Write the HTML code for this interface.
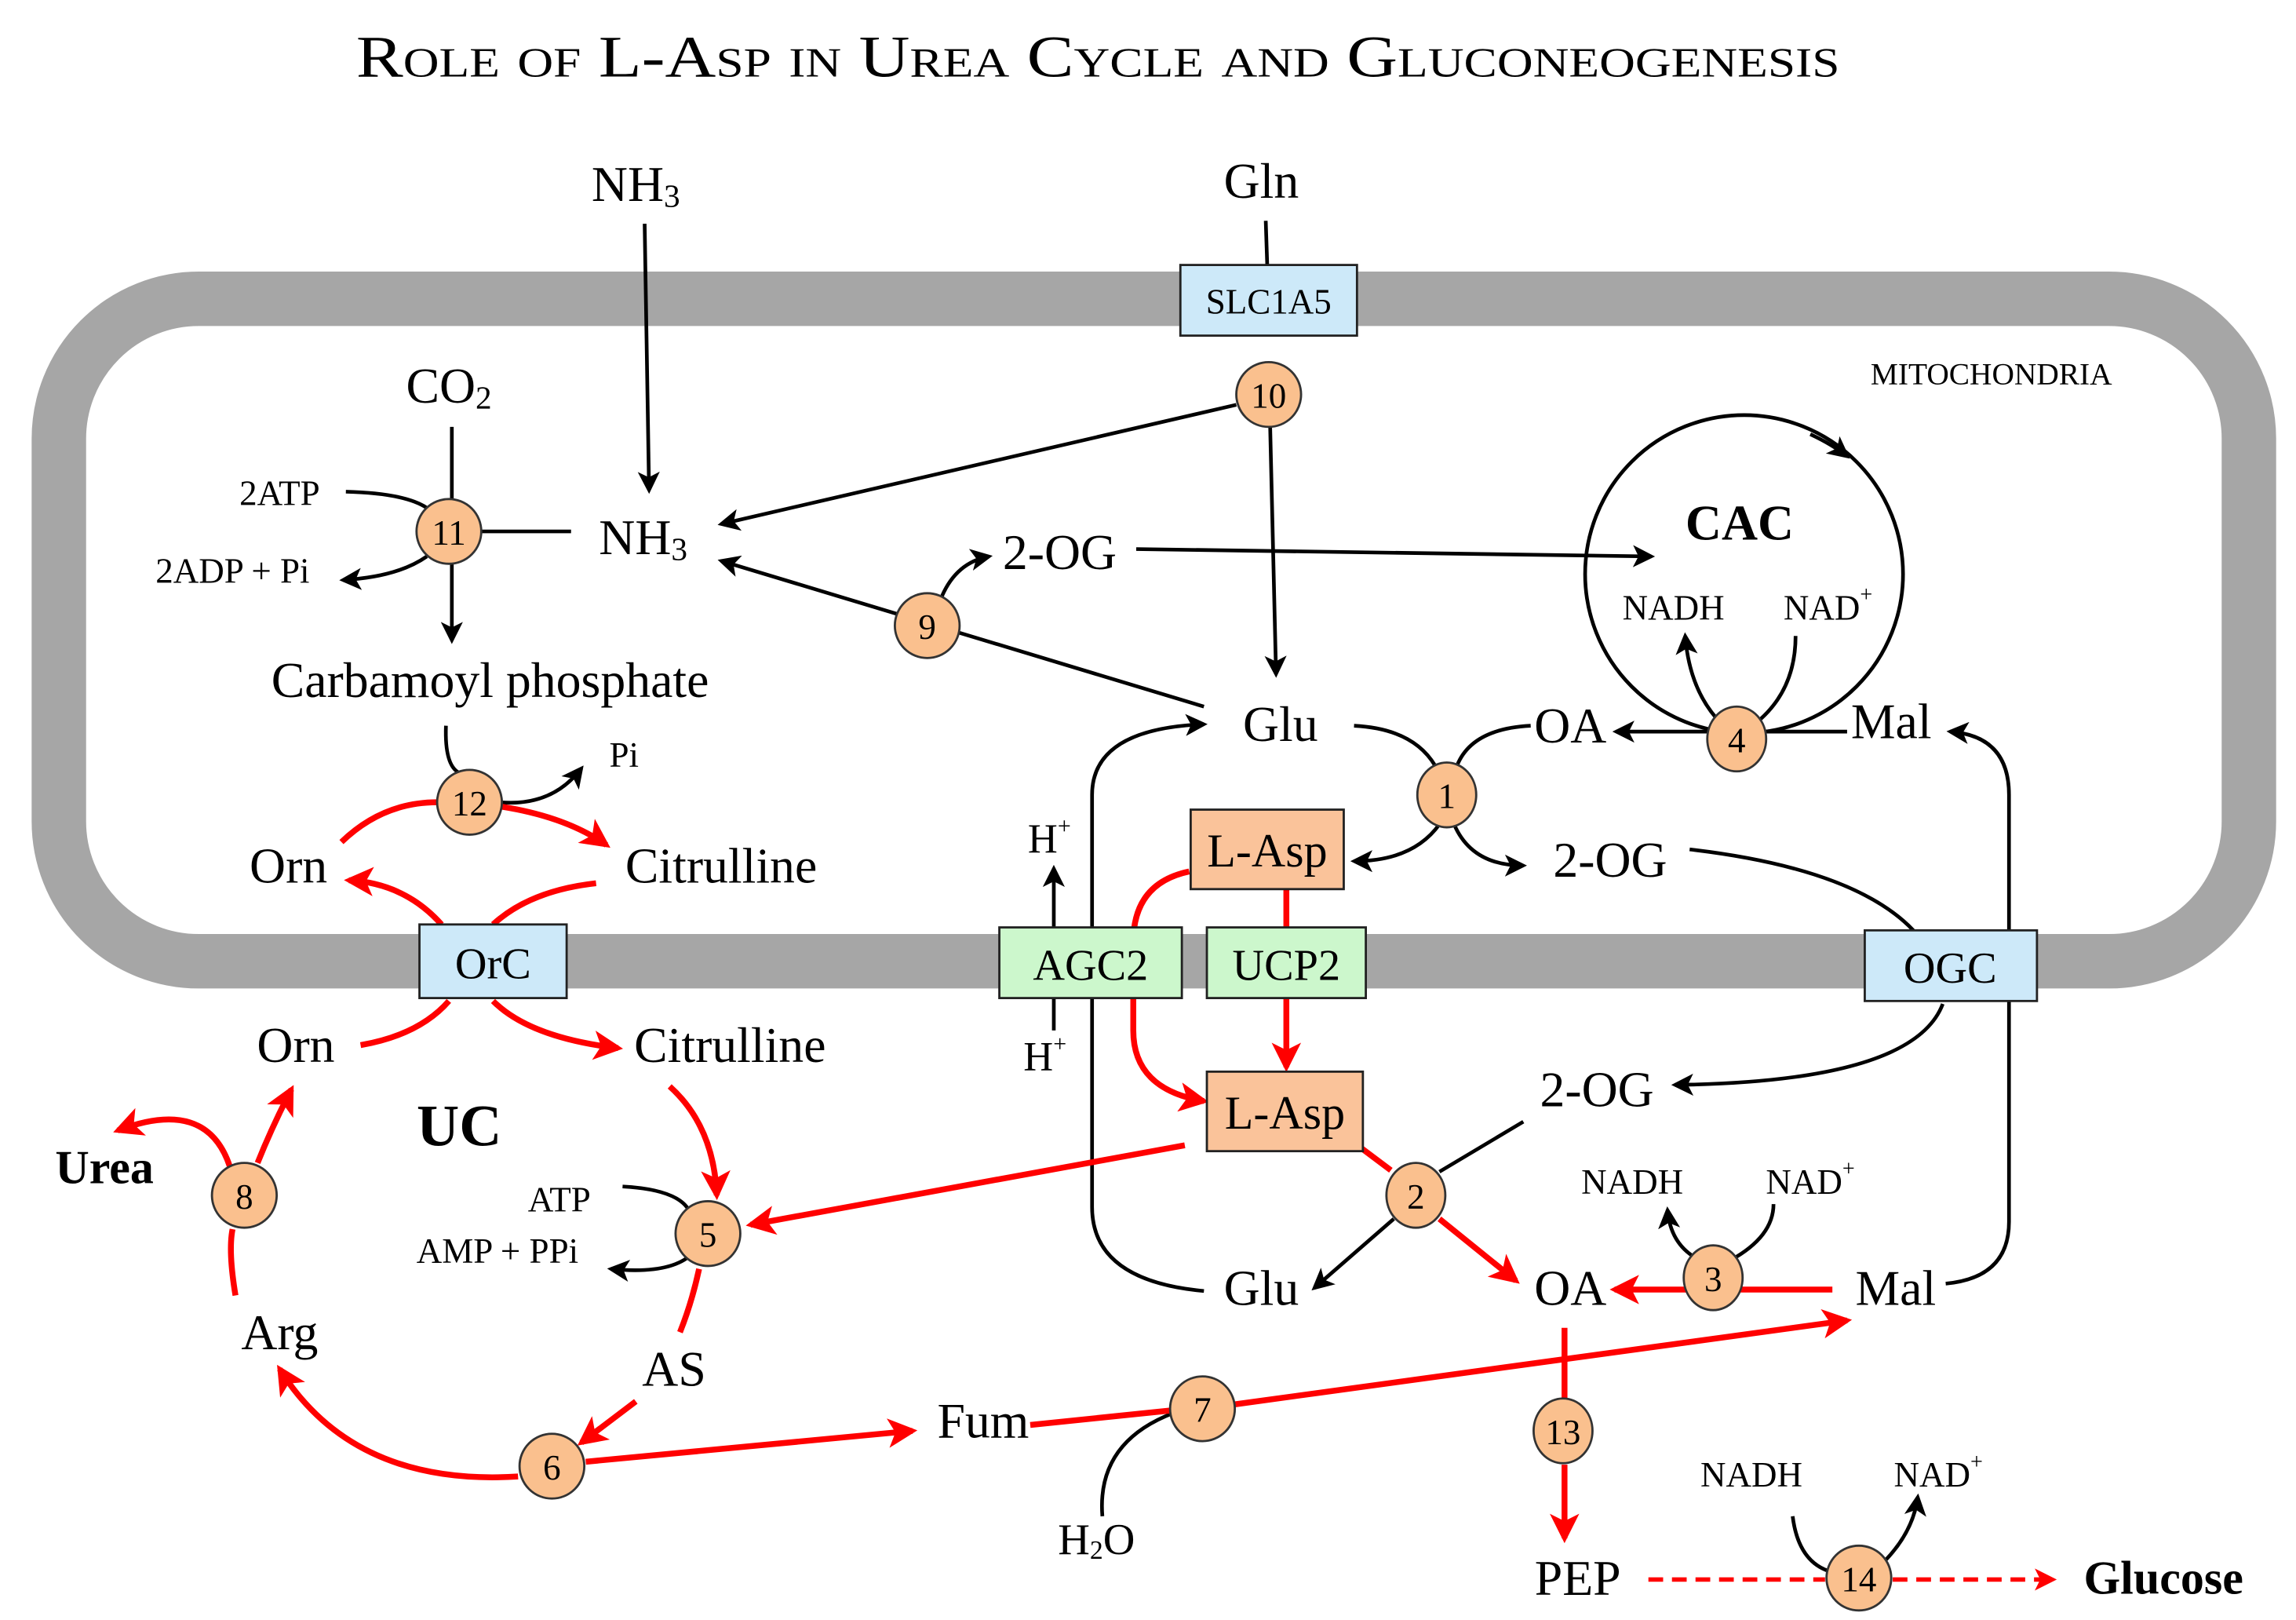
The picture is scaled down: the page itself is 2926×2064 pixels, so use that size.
<!DOCTYPE html>
<html><head><meta charset="utf-8"><style>
html,body{margin:0;padding:0;background:#fff;}
svg{display:block;}
text{font-family:"Liberation Serif",serif;fill:#000;}
</style></head><body>
<svg width="2926" height="2064" viewBox="0 0 1560 1100.5" preserveAspectRatio="none" xmlns="http://www.w3.org/2000/svg">
<defs>
<marker id="ab" viewBox="0 0 12 12" refX="10" refY="6" markerWidth="6" markerHeight="6" orient="auto" markerUnits="strokeWidth"><path d="M0,0 L12,6 L0,12 L3,6 z" fill="#000"/></marker>
<marker id="ar" viewBox="0 0 12 12" refX="10" refY="6" markerWidth="5" markerHeight="5" orient="auto" markerUnits="strokeWidth"><path d="M0,0 L12,6 L0,12 L3,6 z" fill="#f00"/></marker>
</defs>
<rect x="0" y="0" width="1560" height="1100.5" fill="#fff"/>
<text x="242" y="52" font-size="40" textLength="1008" lengthAdjust="spacingAndGlyphs" style="font-variant:small-caps">Role of L-Asp in Urea Cycle and Gluconeogenesis</text>

<rect x="40" y="203" width="1488" height="450" rx="95" fill="none" stroke="#a6a6a6" stroke-width="37"/>

<g fill="none" stroke="#000" stroke-width="2.5">
<path d="M438,152 L441,333" marker-end="url(#ab)"/>
<path d="M860,150 L861,180"/>
<path d="M863,290 L867,458" marker-end="url(#ab)"/>
<path d="M840,275 L490,356" marker-end="url(#ab)"/>
<path d="M818,480 L490,381" marker-end="url(#ab)"/>
<path d="M640,405 Q650,382 672,378" marker-end="url(#ab)"/>
<path d="M772,373 L1122,378" marker-end="url(#ab)"/>
<circle cx="1185" cy="390" r="108"/>
<path d="M1230,295 Q1245,302 1255,310" marker-end="url(#ab)"/>
<path d="M1170,492 Q1148,470 1145,432" marker-end="url(#ab)"/>
<path d="M1192,492 Q1220,470 1220,432"/>
<path d="M1255,497 L1098,497" marker-end="url(#ab)"/>
<path d="M307,290 L307,340"/>
<path d="M307,383 L307,435" marker-end="url(#ab)"/>
<path d="M327,361 L388,361"/>
<path d="M235,334 Q275,335 290,345"/>
<path d="M290,378 Q270,392 233,394" marker-end="url(#ab)"/>
<path d="M303,493 Q302,520 312,525"/>
<path d="M340,545 Q375,548 395,522" marker-end="url(#ab)"/>
<path d="M920,493 Q960,495 975,520"/>
<path d="M990,520 Q1000,495 1040,493"/>
<path d="M978,560 Q960,585 920,585" marker-end="url(#ab)"/>
<path d="M988,560 Q1000,588 1035,588" marker-end="url(#ab)"/>
<path d="M1148,577 Q1260,590 1300,632"/>
<path d="M1320,682 Q1300,735 1138,737" marker-end="url(#ab)"/>
<path d="M1322,872 Q1365,868 1365,830 L1365,540 Q1365,500 1325,497" marker-end="url(#ab)"/>
<path d="M818,877 Q742,870 742,820 L742,540 Q742,495 818,492" marker-end="url(#ab)"/>
<path d="M716,630 L716,590" marker-end="url(#ab)"/>
<path d="M716,678 L716,700"/>
<path d="M1035,762 L978,796"/>
<path d="M947,828 L893,875" marker-end="url(#ab)"/>
<path d="M1153,855 Q1135,845 1133,822" marker-end="url(#ab)"/>
<path d="M1176,856 Q1205,840 1205,818"/>
<path d="M423,806 Q460,808 468,822"/>
<path d="M470,852 Q455,866 415,862" marker-end="url(#ab)"/>
<path d="M749,1030 Q745,980 797,960"/>
<path d="M1218,1030 Q1222,1062 1245,1068"/>
<path d="M1281,1060 Q1300,1040 1303,1017" marker-end="url(#ab)"/>
</g>

<g fill="none" stroke="#f00" stroke-width="4">
<path d="M232,572 Q260,545 297,545"/>
<path d="M341,548 Q385,555 412,574" marker-end="url(#ar)"/>
<path d="M300,628 Q275,600 237,598" marker-end="url(#ar)"/>
<path d="M405,600 Q360,605 335,628"/>
<path d="M305,680 Q285,703 245,710"/>
<path d="M335,680 Q360,705 420,712" marker-end="url(#ar)"/>
<path d="M455,738 Q485,765 487,812" marker-end="url(#ar)"/>
<path d="M805,778 L510,832" marker-end="url(#ar)"/>
<path d="M475,862 Q470,885 462,905"/>
<path d="M432,952 L395,980" marker-end="url(#ar)"/>
<path d="M398,993 L620,972" marker-end="url(#ar)"/>
<path d="M352,1003 Q240,1010 190,930" marker-end="url(#ar)"/>
<path d="M160,880 Q155,850 158,835"/>
<path d="M156,792 Q140,745 80,768" marker-end="url(#ar)"/>
<path d="M175,790 Q185,765 198,740" marker-end="url(#ar)"/>
<path d="M700,968 L797,958"/>
<path d="M839,954 L1255,897" marker-end="url(#ar)"/>
<path d="M808,592 Q770,600 770,640 L770,700 Q770,740 818,748" marker-end="url(#ar)"/>
<path d="M874,604 L874,630"/>
<path d="M874,678 L874,725" marker-end="url(#ar)"/>
<path d="M925,780 L945,795"/>
<path d="M978,828 L1030,870" marker-end="url(#ar)"/>
<path d="M1245,876 L1097,876" marker-end="url(#ar)"/>
<path d="M1063,902 L1063,950"/>
<path d="M1063,995 L1063,1045" marker-end="url(#ar)"/>
<path d="M1120,1073 L1240,1073" stroke-dasharray="10,6" stroke-width="3"/>
<path d="M1286,1073 L1395,1073" stroke-dasharray="10,6" stroke-width="3" marker-end="url(#ar)"/>
</g>

<g stroke="#222" stroke-width="1.5">
<rect x="802" y="180" width="120" height="48" fill="#cde9f9"/>
<rect x="285" y="628" width="100" height="50" fill="#cde9f9"/>
<rect x="679" y="630" width="124" height="48" fill="#ccf7cc"/>
<rect x="820" y="630" width="108" height="48" fill="#ccf7cc"/>
<rect x="1267" y="632" width="117" height="48" fill="#cde9f9"/>
<rect x="809" y="550" width="104" height="54" fill="#fac39a"/>
<rect x="820" y="728" width="106" height="54" fill="#fac39a"/>
</g>
<g font-size="24" text-anchor="middle" dominant-baseline="central">
<text x="862" y="205">SLC1A5</text>
</g>
<g font-size="30" text-anchor="middle" dominant-baseline="central">
<text x="335" y="655">OrC</text>
<text x="741" y="656">AGC2</text>
<text x="874" y="656">UCP2</text>
<text x="1325" y="658">OGC</text>
<text x="861" y="578" font-size="32">L-Asp</text>
<text x="873" y="756" font-size="32">L-Asp</text>
</g>

<g fill="#fac08e" stroke="#333" stroke-width="1.5">
<ellipse cx="983" cy="540" rx="20" ry="22"/>
<ellipse cx="962" cy="812" rx="20" ry="22"/>
<ellipse cx="1164" cy="868" rx="20" ry="22"/>
<ellipse cx="1180" cy="502" rx="20" ry="22"/>
<ellipse cx="481" cy="838" rx="22" ry="22"/>
<ellipse cx="375" cy="996" rx="22" ry="22"/>
<ellipse cx="817" cy="957" rx="22" ry="22"/>
<ellipse cx="166" cy="812" rx="22" ry="22"/>
<ellipse cx="630" cy="425" rx="22" ry="22"/>
<ellipse cx="862" cy="268" rx="22" ry="22"/>
<ellipse cx="305" cy="361" rx="22" ry="22"/>
<ellipse cx="319" cy="545" rx="22" ry="22"/>
<ellipse cx="1062" cy="972" rx="20" ry="22"/>
<ellipse cx="1263" cy="1072" rx="22" ry="22"/>
</g>
<g font-size="24" text-anchor="middle" dominant-baseline="central">
<text x="983" y="541">1</text><text x="962" y="813">2</text><text x="1164" y="869">3</text>
<text x="1180" y="503">4</text><text x="481" y="839">5</text><text x="375" y="997">6</text>
<text x="817" y="958">7</text><text x="166" y="813">8</text><text x="630" y="426">9</text>
<text x="862" y="269">10</text><text x="305" y="362">11</text><text x="319" y="546">12</text>
<text x="1062" y="973">13</text><text x="1263" y="1073">14</text>
</g>

<g font-size="34" text-anchor="middle" dominant-baseline="central">
<text x="432" y="125">NH<tspan font-size="22" dy="8">3</tspan></text>
<text x="857" y="123">Gln</text>
<text x="305" y="262">CO<tspan font-size="22" dy="8">2</tspan></text>
<text x="437" y="365">NH<tspan font-size="22" dy="8">3</tspan></text>
<text x="720" y="375">2-OG</text>
<text x="333" y="462">Carbamoyl phosphate</text>
<text x="870" y="492">Glu</text>
<text x="1067" y="493">OA</text>
<text x="1285" y="490">Mal</text>
<text x="196" y="588">Orn</text>
<text x="490" y="588">Citrulline</text>
<text x="1094" y="584">2-OG</text>
<text x="201" y="710">Orn</text>
<text x="496" y="710">Citrulline</text>
<text x="1085" y="740">2-OG</text>
<text x="857" y="875">Glu</text>
<text x="1067" y="875">OA</text>
<text x="1288" y="875">Mal</text>
<text x="190" y="905">Arg</text>
<text x="458" y="930">AS</text>
<text x="668" y="965">Fum</text>
<text x="1072" y="1072">PEP</text>
</g>
<g font-size="24" text-anchor="middle" dominant-baseline="central">
<text x="1353" y="254" font-size="21">MITOCHONDRIA</text>
<text x="190" y="335">2ATP</text>
<text x="158" y="388">2ADP + Pi</text>
<text x="1137" y="413">NADH</text>
<text x="1242" y="413">NAD<tspan font-size="15" dy="-9">+</tspan></text>
<text x="424" y="513">Pi</text>
<text x="380" y="815">ATP</text>
<text x="338" y="850">AMP + PPi</text>
<text x="1109" y="803">NADH</text>
<text x="1230" y="803">NAD<tspan font-size="15" dy="-9">+</tspan></text>
<text x="1190" y="1002">NADH</text>
<text x="1317" y="1002">NAD<tspan font-size="15" dy="-9">+</tspan></text>
<text x="713" y="570" font-size="28">H<tspan font-size="16" dy="-9">+</tspan></text>
<text x="710" y="718" font-size="28">H<tspan font-size="16" dy="-9">+</tspan></text>
<text x="745" y="1046" font-size="30">H<tspan font-size="18" dy="7">2</tspan><tspan dy="-7">O</tspan></text>
</g>
<g font-weight="bold" text-anchor="middle" dominant-baseline="central">
<text x="1182" y="355" font-size="34">CAC</text>
<text x="312" y="765" font-size="40">UC</text>
<text x="71" y="793" font-size="32">Urea</text>
<text x="1470" y="1072" font-size="32">Glucose</text>
</g>
</svg>
</body></html>
